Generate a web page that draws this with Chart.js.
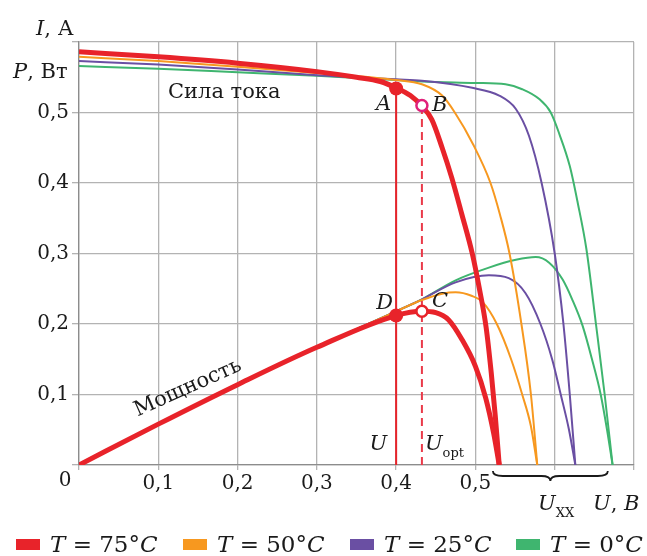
<!DOCTYPE html>
<html>
<head>
<meta charset="utf-8">
<script src="https://cdn.jsdelivr.net/npm/chart.js@4"></script>
<style>
  html, body { margin: 0; padding: 0; background: #fff; }
</style>
</head>
<body>
<canvas id="chart" width="647" height="556"></canvas>
<script>
// temperatures and their colours
const temps = ['75', '50', '25', '0'];
const colors = ['#e8232a', '#f7981f', '#6a4fa3', '#3fb56f'];

// current, I (A) vs voltage U (V)
const curU75 = [0, 0.1, 0.2, 0.3, 0.35, 0.38, 0.4, 0.418, 0.4325, 0.445, 0.458, 0.47, 0.483, 0.496, 0.505, 0.5135, 0.52, 0.525, 0.53];
const cur75 = [0.586, 0.579, 0.570, 0.558, 0.550, 0.544, 0.535, 0.524, 0.509, 0.49, 0.45, 0.408, 0.355, 0.30, 0.25, 0.195, 0.13, 0.07, 0];
const curU50 = [0, 0.1, 0.2, 0.3, 0.4, 0.4325, 0.458, 0.474, 0.497, 0.519, 0.531, 0.543, 0.558, 0.570, 0.578];
const cur50 = [0.579, 0.573, 0.565, 0.556, 0.546, 0.540, 0.524, 0.50, 0.455, 0.40, 0.355, 0.30, 0.20, 0.10, 0];
const curU25 = [0, 0.1, 0.2, 0.3, 0.4, 0.4325, 0.496, 0.530, 0.551, 0.5675, 0.5835, 0.60, 0.611, 0.619, 0.626];
const cur25 = [0.573, 0.568, 0.561, 0.553, 0.547, 0.545, 0.535, 0.524, 0.505, 0.467, 0.40, 0.30, 0.20, 0.10, 0];
const curU0 = [0, 0.1, 0.2, 0.3, 0.4, 0.4325, 0.5, 0.538, 0.559, 0.5805, 0.595, 0.606, 0.619, 0.629, 0.640, 0.652, 0.663, 0.673];
const cur0 = [0.566, 0.562, 0.557, 0.552, 0.546, 0.544, 0.542, 0.540, 0.533, 0.519, 0.50, 0.469, 0.424, 0.372, 0.306, 0.20, 0.10, 0];

// power, P (W) vs voltage U (V)
const powU75 = [0, 0.1, 0.2, 0.3, 0.4, 0.4325, 0.45, 0.466, 0.483, 0.500, 0.513, 0.523, 0.53];
const pow75 = [0, 0.058, 0.114, 0.167, 0.212, 0.218, 0.216, 0.206, 0.178, 0.140, 0.095, 0.045, 0];
const powU50 = [0, 0.1, 0.2, 0.3, 0.4, 0.4325, 0.458, 0.475, 0.495, 0.51, 0.527, 0.545, 0.559, 0.570, 0.578];
const pow50 = [0, 0.058, 0.114, 0.167, 0.218, 0.234, 0.243, 0.245, 0.240, 0.230, 0.20, 0.15, 0.10, 0.055, 0];
const powU25 = [0, 0.1, 0.2, 0.3, 0.4, 0.4325, 0.475, 0.517, 0.542, 0.563, 0.582, 0.597, 0.6076, 0.618, 0.626];
const pow25 = [0, 0.058, 0.114, 0.167, 0.218, 0.235, 0.259, 0.269, 0.265, 0.244, 0.20, 0.149, 0.10, 0.05, 0];
const powU0 = [0, 0.1, 0.2, 0.3, 0.4, 0.4325, 0.475, 0.517, 0.551, 0.576, 0.593, 0.610, 0.622, 0.635, 0.647, 0.658, 0.666, 0.673];
const pow0 = [0, 0.058, 0.114, 0.167, 0.218, 0.235, 0.262, 0.280, 0.291, 0.295, 0.287, 0.263, 0.235, 0.198, 0.15, 0.10, 0.05, 0];

// working point U and optimal point U_opt (A, B on current; D, C on power)
const markU = [0.4, 0.4325];
const markI = [0.534, 0.51];
const markP = [0.212, 0.218];

// axis ticks
const xTicks = [0.1, 0.2, 0.3, 0.4, 0.5];
const yTicks = [0.1, 0.2, 0.3, 0.4, 0.5];

const SERIF = "'DejaVu Serif', serif";

function pts(xs, ys) {
  return xs.map((x, i) => ({ x: x, y: ys[i] }));
}
function fmt(v) {
  return v.toFixed(1).replace('.', ',');
}

const curves = [
  [curU75, cur75, powU75, pow75],
  [curU50, cur50, powU50, pow50],
  [curU25, cur25, powU25, pow25],
  [curU0, cur0, powU0, pow0],
];

const datasets = [];
curves.forEach((c, i) => {
  const base = {
    borderColor: colors[i],
    borderWidth: i === 0 ? 5 : 2,
    pointRadius: 0,
    fill: false,
    cubicInterpolationMode: 'monotone',
    order: i + 2,
  };
  datasets.push(Object.assign({ data: pts(c[0], c[1]) }, base));
  datasets.push(Object.assign({ data: pts(c[2], c[3]) }, base));
});

// vertical lines U and U_opt
datasets.push({
  data: [{ x: markU[0], y: 0 }, { x: markU[0], y: markI[0] }],
  borderColor: colors[0], borderWidth: 2, pointRadius: 0, order: 1,
});
datasets.push({
  data: [{ x: markU[1], y: 0 }, { x: markU[1], y: markI[1] }],
  borderColor: '#ea3a4a', borderWidth: 2, borderDash: [8, 5], pointRadius: 0, order: 1,
});
// filled points A, D
datasets.push({
  data: [{ x: markU[0], y: markI[0] }, { x: markU[0], y: markP[0] }],
  showLine: false, pointRadius: 7, pointBackgroundColor: colors[0],
  pointBorderColor: colors[0], pointBorderWidth: 0, order: 0,
});
// hollow points B, C
datasets.push({
  data: [{ x: markU[1], y: markI[1] }],
  showLine: false, pointRadius: 5.5, pointBackgroundColor: '#fff',
  pointBorderColor: '#e0207a', pointBorderWidth: 2.5, order: 0,
});
datasets.push({
  data: [{ x: markU[1], y: markP[1] }],
  showLine: false, pointRadius: 5.5, pointBackgroundColor: '#fff',
  pointBorderColor: colors[0], pointBorderWidth: 2.5, order: 0,
});

function drawRich(ctx, parts, x, y, size) {
  let cx = x;
  parts.forEach((p) => {
    const fs = p[2] || size;
    ctx.font = (p[1] ? 'italic ' : '') + fs + 'px ' + SERIF;
    ctx.fillText(p[0], cx, y + (p[3] || 0));
    cx += ctx.measureText(p[0]).width;
  });
}

const annotations = {
  id: 'annotations',
  afterDraw(chart) {
    const ctx = chart.ctx;
    const xs = chart.scales.x;
    const ys = chart.scales.y;
    ctx.save();
    ctx.fillStyle = '#1a1a1a';
    ctx.textBaseline = 'alphabetic';
    ctx.textAlign = 'left';

    // axis titles
    drawRich(ctx, [['I', true], [', А', false]], 36, 35, 21);
    drawRich(ctx, [['P', true], [', Вт', false]], 13, 78, 21);
    drawRich(ctx, [['U', true], [', ', false], ['B', true]], 593, 510, 21);
    drawRich(ctx, [['U', true], ['XX', false, 13, 7]], 538, 510, 21);

    // origin 0
    ctx.font = '20px ' + SERIF;
    ctx.textAlign = 'center';
    ctx.textBaseline = 'middle';
    ctx.fillText('0', 65, 481);
    ctx.textAlign = 'left';
    ctx.textBaseline = 'alphabetic';

    // curve names
    ctx.font = '21px ' + SERIF;
    ctx.fillText('Сила тока', 168, 98);
    ctx.save();
    ctx.translate(190, 393);
    ctx.rotate(-24 * Math.PI / 180);
    ctx.textAlign = 'center';
    ctx.fillText('Мощность', 0, 0);
    ctx.restore();

    // point letters
    const pxU = xs.getPixelForValue(markU[0]);
    const pxO = xs.getPixelForValue(markU[1]);
    ctx.font = 'italic 21px ' + SERIF;
    ctx.textAlign = 'right';
    ctx.fillText('A', pxU - 5, ys.getPixelForValue(markI[0]) + 21);
    ctx.fillText('D', pxU - 3, ys.getPixelForValue(markP[0]) - 7);
    ctx.fillText('U', pxU - 9, 450);
    ctx.textAlign = 'left';
    ctx.fillText('B', pxO + 10, ys.getPixelForValue(markI[1]) + 6);
    ctx.fillText('C', pxO + 10, ys.getPixelForValue(markP[1]) - 4);
    drawRich(ctx, [['U', true], ['opt', false, 13, 7]], pxO + 3, 450, 21);

    // brace under open-circuit voltages
    const x1 = xs.getPixelForValue(0.522);
    const x2 = xs.getPixelForValue(0.667);
    const xm = (x1 + x2) / 2;
    const y0 = 471;
    ctx.strokeStyle = '#1a1a1a';
    ctx.lineWidth = 1.8;
    ctx.beginPath();
    ctx.moveTo(x1, y0);
    ctx.quadraticCurveTo(x1, y0 + 5, x1 + 10, y0 + 5);
    ctx.lineTo(xm - 9, y0 + 5);
    ctx.quadraticCurveTo(xm, y0 + 5, xm, y0 + 10);
    ctx.quadraticCurveTo(xm, y0 + 5, xm + 9, y0 + 5);
    ctx.lineTo(x2 - 10, y0 + 5);
    ctx.quadraticCurveTo(x2, y0 + 5, x2, y0);
    ctx.stroke();

    // legend
    const legendX = [16, 183, 350, 516];
    temps.forEach((t, i) => {
      ctx.fillStyle = colors[i];
      ctx.fillRect(legendX[i], 539, 24, 11);
      ctx.fillStyle = '#1a1a1a';
      drawRich(ctx, [['T', true], [' = ' + t + '°', false], ['C', true]], legendX[i] + 34, 552, 23);
    });
    ctx.restore();
  },
};

new Chart(document.getElementById('chart'), {
  type: 'line',
  data: { datasets: datasets },
  plugins: [annotations],
  options: {
    responsive: false,
    animation: false,
    events: [],
    layout: { padding: { top: 42, right: 13, left: 0, bottom: 0 } },
    plugins: { legend: { display: false }, tooltip: { enabled: false } },
    scales: {
      x: {
        type: 'linear',
        min: 0,
        max: 0.7,
        afterFit: (s) => { s.height = 91; },
        afterBuildTicks: (s) => { s.ticks = [0, 0.1, 0.2, 0.3, 0.4, 0.5, 0.6, 0.7].map((v) => ({ value: v })); },
        grid: { color: '#b3b3b3', lineWidth: 1.3, tickLength: 5 },
        border: { color: '#8c8c8c', width: 1.3 },
        ticks: {
          color: '#1a1a1a',
          font: { family: SERIF, size: 20 },
          padding: 2,
          maxRotation: 0,
          autoSkip: false,
          callback: (v) => (xTicks.some((t) => Math.abs(t - v) < 1e-6) ? fmt(v) : ''),
        },
      },
      y: {
        type: 'linear',
        min: 0,
        max: 0.6,
        afterFit: (s) => { s.width = 79; },
        afterBuildTicks: (s) => { s.ticks = [0, 0.1, 0.2, 0.3, 0.4, 0.5, 0.6].map((v) => ({ value: v })); },
        grid: { color: '#b3b3b3', lineWidth: 1.3, tickLength: 7 },
        border: { color: '#8c8c8c', width: 1.3 },
        ticks: {
          color: '#1a1a1a',
          font: { family: SERIF, size: 20 },
          padding: 3,
          autoSkip: false,
          callback: (v) => (yTicks.some((t) => Math.abs(t - v) < 1e-6) ? fmt(v) : ''),
        },
      },
    },
  },
});
</script>
</body>
</html>
